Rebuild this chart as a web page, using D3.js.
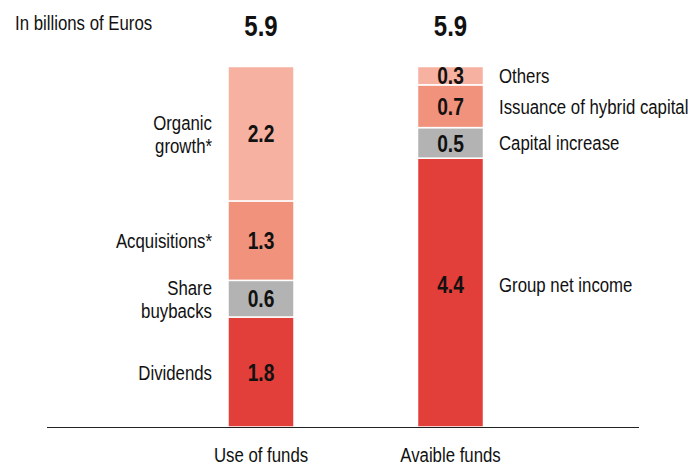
<!DOCTYPE html>
<html>
<head>
<meta charset="utf-8">
<script src="https://cdn.jsdelivr.net/npm/d3@7"></script>
<style>
  body { margin: 0; background: #fff; }
  svg { display: block; font-family: "Liberation Sans", Arial, sans-serif; }
</style>
</head>
<body>
<svg id="chart" width="690" height="466"></svg>
<script>
const bars = ["Use of funds", "Avaible funds"];
const totals = [5.9, 5.9];

// segments from bottom to top
const useLabels = [["Dividends"], ["Share", "buybacks"], ["Acquisitions*"], ["Organic", "growth*"]];
const useValues = [1.8, 0.6, 1.3, 2.2];
const useColors = ["#e23e3a", "#b3b3b3", "#f1927c", "#f7b1a0"];

const availLabels = ["Group net income", "Capital increase", "Issuance of hybrid capital", "Others"];
const availValues = [4.4, 0.5, 0.7, 0.3];
const availColors = ["#e23e3a", "#b3b3b3", "#f1927c", "#f7b1a0"];

const SX = 0.8; // horizontal squeeze to mimic a condensed face

const svg = d3.select("#chart");

const x = d3.scaleOrdinal().domain(bars).range([261, 450.5]);
const barW = 66;
const y = d3.scaleLinear().domain([0, 5.9]).range([427, 66.5]);

function stackUp(values) {
  let acc = 0;
  return values.map(v => { const d = { y0: acc, y1: acc + v, v }; acc += v; return d; });
}

// condensed text: a group squeezed horizontally around its anchor point
function ctext(parent, tx, ty, str, opts = {}) {
  const grp = parent.append("g").attr("transform", `translate(${tx},${ty}) scale(${SX},1)`);
  return grp.append("text")
    .attr("x", 0).attr("y", 0)
    .attr("dy", opts.dy || 0)
    .attr("text-anchor", opts.anchor || "start")
    .attr("font-size", opts.size || 21)
    .attr("font-weight", opts.weight || "normal")
    .attr("fill", "#111")
    .text(str);
}

// tall segments get their labels lifted a little, like the original
const labelY = d => {
  const mid = (y(d.y0) + y(d.y1)) / 2;
  return d.v > 3 ? mid - 8 : mid;
};

const series = [
  { bar: bars[0], segs: stackUp(useValues), colors: useColors },
  { bar: bars[1], segs: stackUp(availValues), colors: availColors }
];

const g = svg.append("g");

series.forEach(s => {
  const cx = x(s.bar);
  g.append("g").selectAll("rect")
    .data(s.segs)
    .join("rect")
    .attr("x", cx - barW / 2)
    .attr("width", barW)
    .attr("y", d => y(d.y1))
    .attr("height", d => y(d.y0) - y(d.y1))
    .attr("fill", (d, i) => s.colors[i])
    .attr("stroke", "#fff")
    .attr("stroke-width", 1.5);

  s.segs.forEach(d => {
    ctext(g, cx, labelY(d), d3.format(".1f")(d.v),
      { anchor: "middle", weight: "bold", size: 24, dy: "0.36em" });
  });
});

// totals
bars.forEach((b, i) => {
  ctext(g, x(b), 36, d3.format(".1f")(totals[i]), { anchor: "middle", weight: "bold", size: 30 });
});

// left labels
series[0].segs.forEach((d, i) => {
  const lines = useLabels[i];
  const mid = labelY(d);
  const lh = 23;
  const top = mid - (lines.length - 1) * lh / 2;
  lines.forEach((l, j) => ctext(g, 212, top + j * lh, l, { anchor: "end", dy: "0.36em" }));
});

// right labels
series[1].segs.forEach((d, i) => {
  ctext(g, 499, labelY(d), availLabels[i], { dy: "0.36em" });
});

// baseline
g.append("line")
  .attr("x1", 47).attr("x2", 639)
  .attr("y1", y(0) + 0.5).attr("y2", y(0) + 0.5)
  .attr("stroke", "#222")
  .attr("stroke-width", 1.2);

// bottom category labels
bars.forEach(b => ctext(g, x(b), 462, b, { anchor: "middle" }));

ctext(g, 15, 30, "In billions of Euros");
</script>
</body>
</html>
